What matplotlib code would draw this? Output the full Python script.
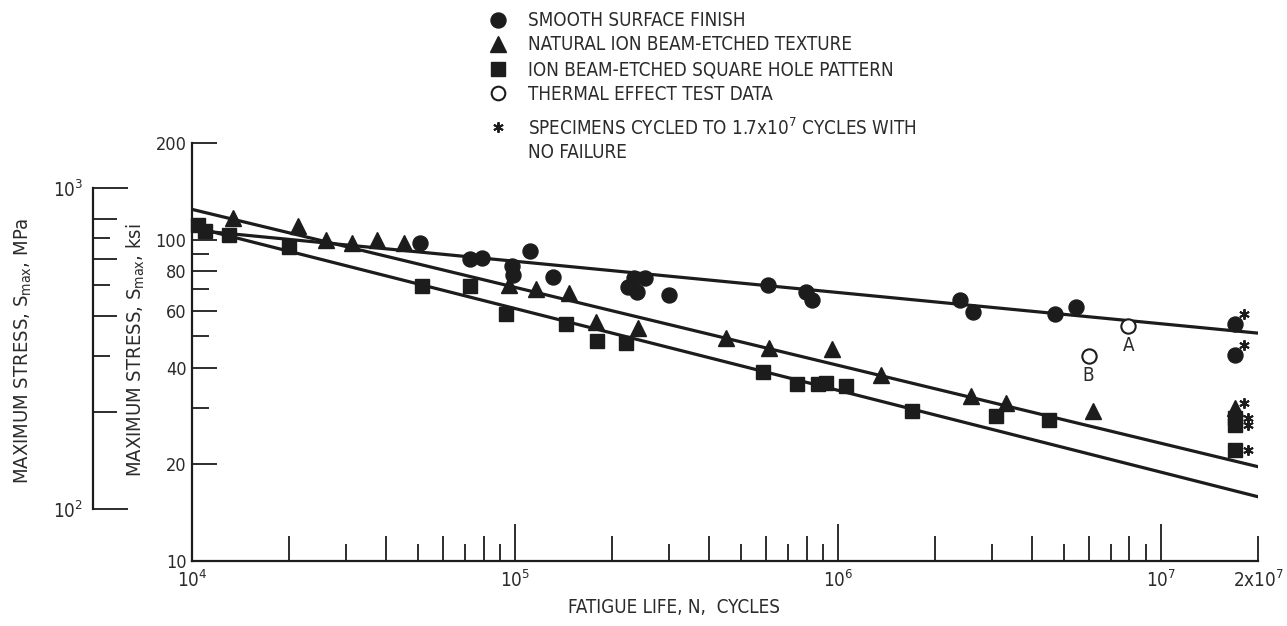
import matplotlib
matplotlib.use("Agg")
import matplotlib.pyplot as plt
from matplotlib import font_manager as fm
from matplotlib.ticker import NullFormatter, NullLocator
from matplotlib.transforms import offset_copy

# ---------------- data ----------------
smooth_N = [5.08e4, 7.28e4, 7.89e4, 9.77e4, 9.88e4, 1.11e5, 1.31e5, 2.33e5, 2.52e5,
            2.24e5, 2.39e5, 2.99e5, 6.08e5, 7.98e5, 8.32e5, 2.39e6, 2.63e6, 4.70e6, 5.48e6]
smooth_S = [97.9, 86.9, 87.8, 82.7, 77.6, 92.4, 76.7, 75.9, 76.2,
            71.4, 68.9, 67.3, 72.3, 68.9, 65.1, 64.9, 59.7, 58.9, 61.9]
smooth_runout_N = [1.7e7, 1.7e7]
smooth_runout_S = [54.8, 43.8]

natural_N = [1.34e4, 2.13e4, 2.60e4, 3.14e4, 3.73e4, 4.53e4, 9.62e4, 1.16e5, 1.47e5,
             1.78e5, 2.40e5, 4.50e5, 6.12e5, 9.59e5, 1.36e6, 2.59e6, 3.31e6, 6.17e6]
natural_S = [116.6, 110.7, 99.8, 97.9, 100.1, 97.9, 72.3, 70.4, 68.4,
             55.6, 53.0, 49.3, 46.1, 45.8, 37.8, 32.6, 31.0, 29.2]
natural_runout_N = [1.7e7]
natural_runout_S = [30.0]

square_N = [1.04e4, 1.10e4, 1.30e4, 1.99e4, 5.15e4, 7.28e4, 9.37e4, 1.44e5, 1.79e5,
            2.21e5, 5.85e5, 7.46e5, 8.69e5, 9.18e5, 1.06e6, 1.70e6, 3.08e6, 4.51e6]
square_S = [111.1, 106.4, 103.4, 95.1, 71.8, 71.8, 58.9, 54.7, 48.5,
            47.6, 38.8, 35.5, 35.5, 35.9, 35.0, 29.3, 28.2, 27.5]
square_runout_N = [1.7e7, 1.7e7, 1.7e7]
square_runout_S = [27.8, 26.5, 22.1]

thermal_N = [7.93e6, 5.98e6]
thermal_S = [53.9, 43.5]
thermal_labels = ["A", "B"]

fit_N = [1e4, 2e7]
fit_smooth_S = [107.2, 51.2]
fit_natural_S = [124.3, 19.66]
fit_square_S = [109.8, 15.85]

legend_labels = ["SMOOTH SURFACE FINISH",
                 "NATURAL ION BEAM-ETCHED TEXTURE",
                 "ION BEAM-ETCHED SQUARE HOLE PATTERN",
                 "THERMAL EFFECT TEST DATA"]
note_lines = [r"SPECIMENS CYCLED TO 1.7x10$^7$ CYCLES WITH", "NO FAILURE"]

x_major = [1e4, 1e5, 1e6, 1e7]
x_major_labels = [r"10$^4$", r"10$^5$", r"10$^6$", r"10$^7$"]
x_even = [m * 10 ** e for e in (4, 5, 6) for m in (2, 4, 6, 8)] + [2e7]
x_odd = [m * 10 ** e for e in (4, 5, 6) for m in (3, 5, 7, 9)]
y_major = [10, 20, 40, 60, 80, 100, 200]
y_minor = [30, 50, 70, 90]
mpa_major = [100, 1000]
mpa_major_labels = [r"10$^2$", r"10$^3$"]
mpa_even = [200, 400, 600, 800]
mpa_odd = [300, 500, 700]
KSI_TO_MPA = 6.894757

# ---------------- style ----------------
def has_font(name):
    try:
        fm.findfont(fm.FontProperties(family=name), fallback_to_default=False)
        return True
    except Exception:
        return False

fam = "Liberation Sans Narrow" if has_font("Liberation Sans Narrow") else "DejaVu Sans"
plt.rcParams["font.family"] = [fam, "DejaVu Sans"]
if fam == "DejaVu Sans":
    plt.rcParams["font.stretch"] = "condensed"
plt.rcParams["mathtext.fontset"] = "custom"
plt.rcParams["mathtext.rm"] = fam
plt.rcParams["mathtext.it"] = fam
plt.rcParams["mathtext.bf"] = fam

ink = "#1c1c1c"
txt = "#2b2b2b"
FS = 13.5
FS_Y = 14.5
FS_T = 13.0
W, H = 1287, 626
fig = plt.figure(figsize=(W / 100, H / 100), dpi=100)

def fx(px):
    return px / W

def fy(py):
    return 1 - py / H

# main axes: x from 1e4 (px 192) to 2e7 (px 1258), y from 10 (px 561) to 200 (px 143)
ax = fig.add_axes([fx(192), fy(561), fx(1258) - fx(192), fy(143) - fy(561)])
ax.set_xscale("log")
ax.set_yscale("log")
ax.set_xlim(fit_N[0], fit_N[1])
ax.set_ylim(10, 200)
for s in ("top", "right"):
    ax.spines[s].set_visible(False)
for s in ("left", "bottom"):
    ax.spines[s].set_linewidth(1.6)
    ax.spines[s].set_color(ink)

ax.set_xticks(x_major, labels=x_major_labels)
ax.set_xticks(x_even, minor=True,
              labels=[""] * (len(x_even) - 1) + [r"2x10$^7$"])
ax.tick_params(axis="x", which="major", direction="in", length=27, width=1.3,
               pad=6, labelsize=FS_T + 0.5, colors=ink, labelcolor=txt)
ax.tick_params(axis="x", which="minor", direction="in", length=18, width=1.3,
               pad=6, labelsize=FS_T + 0.5, colors=ink, labelcolor=txt)
ax.set_yticks(y_major, labels=[str(v) for v in y_major])
ax.set_yticks(y_minor, minor=True)
ax.yaxis.set_minor_formatter(NullFormatter())
ax.tick_params(axis="y", which="major", direction="in", length=18, width=1.3,
               pad=4, labelsize=FS_T, colors=ink, labelcolor=txt)
ax.tick_params(axis="y", which="minor", direction="in", length=12, width=1.3,
               colors=ink)

# odd-multiple short x ticks
axo = ax.twiny()
axo.set_xscale("log")
axo.set_xlim(ax.get_xlim())
axo.xaxis.set_ticks_position("bottom")
axo.set_xticks(x_odd, labels=[""] * len(x_odd))
axo.xaxis.set_minor_locator(NullLocator())
axo.tick_params(axis="x", which="major", direction="in", length=12, width=1.3,
                colors=ink)
for s in axo.spines.values():
    s.set_visible(False)

# fitted lines
lw = 2.3
ax.plot(fit_N, fit_smooth_S, color=ink, lw=lw, zorder=2)
ax.plot(fit_N, fit_natural_S, color=ink, lw=lw, zorder=2)
ax.plot(fit_N, fit_square_S, color=ink, lw=lw, zorder=2)

# data points
mk = dict(ls="none", color=ink, mec=ink, mew=1.0, zorder=3, clip_on=False)
ax.plot(smooth_N, smooth_S, marker="o", ms=10.8, **mk)
ax.plot(smooth_runout_N, smooth_runout_S, marker="o", ms=10.8, **mk)
ax.plot(natural_N, natural_S, marker="^", ms=11.2, **mk)
ax.plot(natural_runout_N, natural_runout_S, marker="^", ms=11.2, **mk)
ax.plot(square_N, square_S, marker="s", ms=9.8, **mk)
ax.plot(square_runout_N, square_runout_S, marker="s", ms=9.8, **mk)
ax.plot(thermal_N, thermal_S, ls="none", marker="o", ms=10.3, mfc="white",
        mec=ink, mew=1.5, zorder=4)
for n, s, lab in zip(thermal_N, thermal_S, thermal_labels):
    ax.annotate(lab, (n, s), xytext=(0, -14), textcoords="offset points",
                ha="center", va="center", fontsize=FS, color=txt)

# run-out asterisks
star = dict(ls="none", marker=(6, 2, 0), ms=7.5, mew=1.4, color=ink, zorder=5,
            clip_on=False)
ax.plot(smooth_runout_N, smooth_runout_S,
        transform=offset_copy(ax.transData, fig=fig, x=9, y=10, units="dots"), **star)
ax.plot(natural_runout_N, natural_runout_S,
        transform=offset_copy(ax.transData, fig=fig, x=9, y=5, units="dots"), **star)
ax.plot(square_runout_N, square_runout_S,
        transform=offset_copy(ax.transData, fig=fig, x=13, y=0, units="dots"), **star)

# axis labels
ax.set_xlabel("FATIGUE LIFE, N,  CYCLES", fontsize=FS, color=txt)
ax.xaxis.set_label_coords(fx(674), fy(598), transform=fig.transFigure)
ax.set_ylabel(r"MAXIMUM STRESS, S$_{\mathrm{max}}$, ksi", fontsize=FS_Y, color=txt)
ax.yaxis.set_label_coords(fx(147), fy(350), transform=fig.transFigure)

# MPa scale
ax2 = fig.add_axes([fx(93), fy(561), 0.01, fy(143) - fy(561)])
ax2.set_yscale("log")
ax2.set_ylim(10 * KSI_TO_MPA, 200 * KSI_TO_MPA)
ax2.patch.set_visible(False)
for s in ("top", "right", "bottom"):
    ax2.spines[s].set_visible(False)
ax2.spines["left"].set_bounds(mpa_major[0], mpa_major[1])
ax2.spines["left"].set_linewidth(1.6)
ax2.spines["left"].set_color(ink)
ax2.set_xticks([])
ax2.set_yticks(mpa_major, labels=mpa_major_labels)
ax2.set_yticks(mpa_even, minor=True)
ax2.yaxis.set_minor_formatter(NullFormatter())
ax2.tick_params(axis="y", which="major", direction="in", length=25, width=1.3,
                pad=7, labelsize=FS_T + 0.5, colors=ink, labelcolor=txt)
ax2.tick_params(axis="y", which="minor", direction="in", length=17, width=1.3,
                colors=ink)
ax2b = ax2.twinx()
ax2b.set_yscale("log")
ax2b.set_ylim(ax2.get_ylim())
ax2b.yaxis.set_ticks_position("left")
ax2b.set_yticks(mpa_odd, labels=[""] * len(mpa_odd))
ax2b.yaxis.set_minor_locator(NullLocator())
ax2b.tick_params(axis="y", which="major", direction="in", length=12, width=1.3,
                 colors=ink)
for s in ax2b.spines.values():
    s.set_visible(False)
ax2.set_ylabel(r"MAXIMUM STRESS, S$_{\mathrm{max}}$, MPa", fontsize=FS_Y, color=txt)
ax2.yaxis.set_label_coords(fx(34), fy(351), transform=fig.transFigure)

# legend block (pixel layout overlay)
ov = fig.add_axes([0, 0, 1, 1], zorder=10)
ov.set_xlim(0, W)
ov.set_ylim(H, 0)
ov.axis("off")
key_x, text_x = 498, 528
rows_y = [20, 44, 69, 93]
key_styles = [dict(marker="o", ms=10.8, color=ink),
              dict(marker="^", ms=11.0, color=ink),
              dict(marker="s", ms=9.5, color=ink),
              dict(marker="o", ms=9.8, mfc="white", mec=ink, mew=1.5)]
for yy, lab, st in zip(rows_y, legend_labels, key_styles):
    ov.plot([key_x], [yy], ls="none", **st)
    ov.text(text_x, yy + 1, lab, fontsize=FS, color=txt, va="center", ha="left")
note_y = [127, 151]
ov.plot([key_x], [note_y[0]], ls="none", marker=(6, 2, 0), ms=7.5, mew=1.4, color=ink)
for yy, lab in zip(note_y, note_lines):
    ov.text(text_x, yy + 1, lab, fontsize=FS, color=txt, va="center", ha="left")

fig.savefig("out.png", dpi=100, facecolor="white")
